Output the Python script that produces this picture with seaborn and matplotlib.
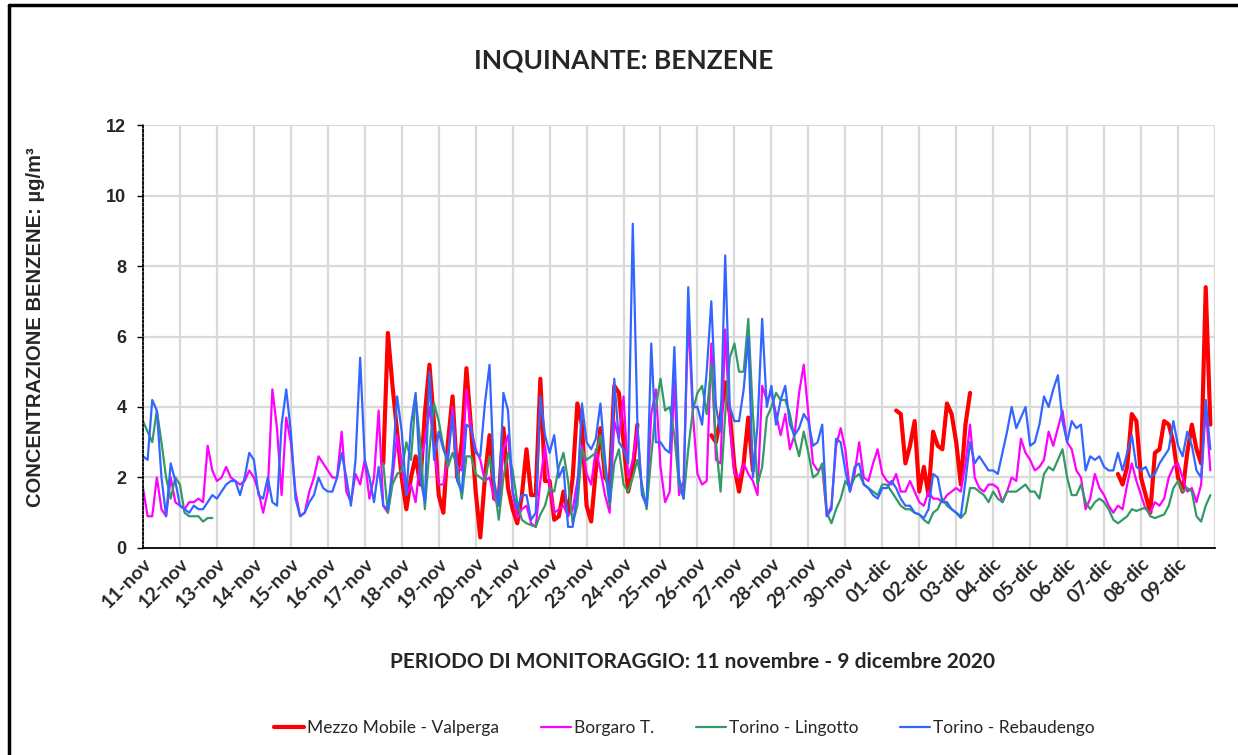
import numpy as np
import pandas as pd
import matplotlib.pyplot as plt
from matplotlib.lines import Line2D
import seaborn as sns

nan = np.nan

# Dati: concentrazione benzene (ug/m3), campioni ogni 3 ore dall'11-nov 00:00
valperga = [nan] * 48 + [
    nan, nan, nan, nan, 2.4, 6.1, 4.6, 3.3,
    2.0, 1.1, 2.0, 2.6, 1.8, 3.8, 5.2, 3.5,
    1.5, 1.0, 3.0, 4.3, 2.0, 3.0, 5.1, 3.4,
    1.6, 0.3, 2.0, 3.2, 1.4, 1.4, 3.4, 1.7,
    1.1, 0.7, 1.5, 2.8, 1.5, 1.5, 4.8, 1.9,
    1.9, 0.8, 0.9, 1.6, 1.0, 2.0, 4.1, 3.5,
    1.2, 0.75, 2.2, 3.4, 2.0, 1.8, 4.6, 4.4,
    3.0, 1.6, 2.2, 3.5, nan, nan, nan, nan,
    nan, nan, nan, nan, nan, nan, nan, nan,
    nan, nan, nan, 3.2, 3.0, 3.7, 4.7, 3.8,
    2.3, 1.6, 2.4, 3.7, 2.2, nan, nan, nan,
] + [nan] * 24 + [
    nan, nan, nan, 3.9, 3.8, 2.4, 2.9, 3.6,
    1.6, 2.3, 1.5, 3.3, 2.9, 2.8, 4.1, 3.8,
    3.0, 1.8, 3.5, 4.4, nan, nan, nan, nan,
] + [nan] * 24 + [
    nan, nan, nan, 2.1, 1.8, 2.3, 3.8, 3.6,
    2.0, 1.5, 1.0, 2.7, 2.8, 3.6, 3.5, 3.0,
    2.0, 1.6, 2.7, 3.5, 2.8, 2.4, 7.4, 3.5,
]

borgaro = [
    1.7, 0.9, 0.9, 2.0, 1.1, 0.9, 2.0, 1.3,
    1.2, 1.1, 1.3, 1.3, 1.4, 1.3, 2.9, 2.2,
    1.9, 2.0, 2.3, 2.0, 1.9, 1.8, 1.9, 2.2,
    2.0, 1.6, 1.0, 1.6, 4.5, 3.4, 1.5, 3.7,
    3.0, 1.6, 0.9, 1.0, 1.6, 2.0, 2.6, 2.4,
    2.2, 2.0, 2.0, 3.3, 1.6, 1.3, 2.1, 1.8,
    2.5, 1.4, 2.0, 3.9, 1.2, 1.0, 2.0, 3.2,
    2.3, 1.5, 1.8, 1.3, 2.5, 3.0, 4.0, 2.8,
    1.8, 1.8, 2.6, 4.0, 2.3, 2.2, 4.5, 3.4,
    2.8, 2.5, 1.9, 2.0, 1.4, 1.2, 2.8, 3.2,
    1.6, 0.85, 1.1, 1.2, 0.7, 0.6, 1.9, 2.9,
    1.8, 1.0, 1.1, 1.2, 0.9, 1.1, 1.9, 2.9,
    2.1, 1.8, 2.8, 2.2, 1.5, 1.0, 3.6, 3.1,
    4.3, 2.0, 2.5, 3.4, 1.6, 1.2, 3.8, 4.5,
    2.3, 1.3, 1.6, 4.8, 1.5, 1.9, 6.6, 3.8,
    2.1, 1.8, 1.9, 5.8, 2.5, 2.4, 6.2, 3.5,
    2.1, 2.0, 2.4, 2.1, 1.9, 1.5, 4.6, 4.2,
    4.4, 3.8, 3.2, 3.8, 2.8, 3.2, 4.4, 5.2,
    3.8, 2.4, 2.2, 2.3, 0.9, 1.2, 2.9, 3.4,
    2.8, 1.6, 2.1, 3.0, 2.0, 1.9, 2.4, 2.8,
    2.1, 1.9, 1.8, 2.1, 1.6, 1.6, 1.9, 1.6,
    1.3, 1.2, 1.6, 1.4, 1.4, 1.3, 1.5, 1.6,
    1.7, 1.6, 2.4, 3.5, 2.0, 1.7, 1.6, 1.8,
    1.8, 1.7, 1.3, 1.6, 2.0, 1.9, 3.1, 2.7,
    2.5, 2.2, 2.3, 2.5, 3.3, 2.9, 3.4, 3.9,
    3.0, 2.8, 2.2, 2.0, 1.1, 1.4, 2.1, 1.7,
    1.5, 1.2, 1.0, 1.2, 1.1, 1.8, 2.4, 1.9,
    1.5, 1.1, 1.0, 1.3, 1.2, 1.4, 2.0, 2.3,
    2.4, 2.0, 1.6, 1.7, 1.3, 1.8, 4.0, 2.2,
]

lingotto = [
    3.6, 3.3, 3.0, 3.9, 3.0, 2.0, 1.4, 2.0,
    1.8, 1.0, 0.9, 0.9, 0.9, 0.75, 0.85, 0.85,
] + [nan] * 32 + [
    nan, nan, nan, nan, 2.4, 1.0, 1.8, 2.1,
    2.2, 3.0, 2.5, 4.3, 3.0, 1.1, 2.8, 4.1,
    3.6, 2.9, 2.3, 2.7, 2.3, 1.4, 2.6, 2.6,
    2.1, 2.0, 1.9, 2.6, 1.8, 0.8, 2.0, 2.7,
    2.2, 1.3, 0.8, 0.7, 0.65, 0.6, 0.95, 1.2,
    1.7, 1.6, 2.3, 2.7, 1.9, 0.7, 1.2, 2.8,
    2.5, 2.6, 2.7, 3.2, 2.2, 1.2, 2.4, 2.8,
    1.8, 1.6, 2.0, 2.5, 1.8, 1.1, 2.6, 4.0,
    4.8, 3.9, 4.0, 3.2, 1.8, 1.4, 2.8, 3.9,
    4.4, 4.6, 3.8, 5.2, 3.0, 1.6, 3.8, 5.4,
    5.8, 5.0, 5.0, 6.5, 3.8, 1.8, 2.3, 3.7,
    4.0, 4.4, 4.2, 4.2, 3.8, 3.1, 2.6, 3.3,
    2.7, 2.0, 2.1, 2.4, 1.0, 0.7, 1.1, 1.4,
    1.9, 1.7, 2.0, 2.1, 1.8, 1.7, 1.6, 1.5,
    1.8, 1.8, 1.6, 1.4, 1.2, 1.1, 1.1, 1.0,
    0.95, 0.8, 0.7, 1.0, 1.1, 1.4, 1.2, 1.1,
    1.0, 0.85, 1.0, 1.7, 1.7, 1.6, 1.5, 1.3,
    1.6, 1.4, 1.3, 1.6, 1.6, 1.6, 1.7, 1.8,
    1.6, 1.6, 1.4, 2.1, 2.3, 2.2, 2.5, 2.8,
    2.0, 1.5, 1.5, 1.8, 1.3, 1.1, 1.3, 1.4,
    1.3, 1.1, 0.8, 0.7, 0.8, 0.9, 1.1, 1.05,
    1.1, 1.15, 0.9, 0.85, 0.9, 0.95, 1.2, 1.7,
    1.9, 1.6, 1.7, 1.6, 0.9, 0.75, 1.2, 1.5,
]

rebaudengo = [
    2.6, 2.5, 4.2, 3.9, 2.0, 0.9, 2.4, 1.9,
    1.2, 1.1, 1.0, 1.2, 1.1, 1.1, 1.3, 1.5,
    1.4, 1.6, 1.8, 1.9, 1.9, 1.5, 2.0, 2.7,
    2.5, 1.5, 1.4, 2.0, 1.3, 1.2, 3.5, 4.5,
    3.3, 1.4, 0.9, 1.0, 1.3, 1.5, 2.0, 1.7,
    1.6, 1.6, 2.0, 2.7, 2.0, 1.2, 2.5, 5.4,
    2.5, 2.0, 1.3, 2.3, 1.2, 1.1, 2.3, 4.3,
    3.3, 1.5, 3.5, 4.4, 2.0, 1.3, 5.0, 2.5,
    3.3, 2.8, 2.5, 3.8, 1.9, 1.6, 3.5, 3.4,
    2.7, 2.6, 4.1, 5.2, 1.9, 1.2, 4.4, 3.9,
    1.6, 1.1, 1.5, 1.5, 0.8, 1.0, 4.3, 3.2,
    2.7, 3.2, 2.0, 2.3, 0.6, 0.6, 1.6, 4.1,
    3.0, 2.8, 3.1, 4.1, 2.5, 1.3, 4.8, 3.0,
    2.8, 2.4, 9.2, 3.5, 1.5, 1.2, 5.8, 3.0,
    3.0, 2.8, 2.7, 5.7, 2.0, 1.4, 7.4, 4.0,
    4.0, 3.5, 5.0, 7.0, 4.0, 3.3, 8.3, 4.0,
    3.6, 3.6, 4.5, 6.0, 2.0, 3.5, 6.5, 4.0,
    4.6, 3.5, 4.2, 4.6, 3.5, 3.2, 3.4, 3.8,
    3.6, 2.9, 3.0, 3.5, 0.9, 1.1, 3.1, 3.0,
    2.2, 1.6, 2.3, 2.4, 1.8, 1.7, 1.5, 1.4,
    1.7, 1.7, 1.9, 1.7, 1.4, 1.2, 1.2, 1.0,
    0.95, 0.85, 1.1, 2.1, 2.0, 1.3, 1.3, 1.1,
    1.0, 0.9, 1.9, 3.0, 2.4, 2.6, 2.4, 2.2,
    2.2, 2.1, 2.7, 3.3, 4.0, 3.4, 3.7, 4.0,
    2.9, 3.0, 3.5, 4.3, 4.0, 4.5, 4.9, 3.6,
    3.0, 3.6, 3.4, 3.5, 2.2, 2.6, 2.5, 2.6,
    2.3, 2.2, 2.2, 2.7, 2.2, 2.7, 3.2, 2.3,
    2.2, 2.3, 2.0, 2.1, 2.4, 2.6, 2.8, 3.6,
    2.9, 2.6, 3.3, 2.9, 2.2, 2.0, 4.2, 2.8,
]

serie = ["Mezzo Mobile - Valperga", "Borgaro T.", "Torino - Lingotto", "Torino - Rebaudengo"]
valori = [valperga, borgaro, lingotto, rebaudengo]
colori = ["#ff0000", "#ff00ff", "#339966", "#3366ff"]
spessori = [3.0, 1.6, 1.6, 1.6]

giorni = ["11-nov", "12-nov", "13-nov", "14-nov", "15-nov", "16-nov", "17-nov",
          "18-nov", "19-nov", "20-nov", "21-nov", "22-nov", "23-nov", "24-nov",
          "25-nov", "26-nov", "27-nov", "28-nov", "29-nov", "30-nov", "01-dic",
          "02-dic", "03-dic", "04-dic", "05-dic", "06-dic", "07-dic", "08-dic",
          "09-dic"]

ore = np.arange(len(borgaro)) * 3  # ore dall'inizio del monitoraggio

# tabella lunga, con un id di tratto per lasciare i buchi nei dati
righe = []
for nome, v in zip(serie, valori):
    s = pd.Series(v, dtype=float)
    tratto = s.isna().cumsum()
    righe.append(pd.DataFrame({"giorno": ore / 24, "valore": s, "serie": nome, "tratto": tratto}))
df = pd.concat(righe).dropna()

sns.set_style("white")
plt.rcParams["font.family"] = ["Lato", "DejaVu Sans"]

fig = plt.figure(figsize=(12.38, 7.55), dpi=100)
ax = fig.add_axes([0.1155, 0.2742, 0.8659, 0.5602])

for nome, col, lw in zip(serie, colori, spessori):
    sns.lineplot(data=df[df["serie"] == nome], x="giorno", y="valore", units="tratto",
                 estimator=None, color=col, linewidth=lw, ax=ax, legend=False)

ax.set_xlim(0, 29)
ax.set_ylim(0, 12)
ax.set_yticks(np.arange(0, 13, 2))
ax.set_xticks(np.arange(29))
ax.set_xticklabels(giorni, rotation=45, ha="right", rotation_mode="anchor",
                   fontsize=14, fontweight="bold")
for t in ax.get_yticklabels():
    t.set_family(["Liberation Sans", "DejaVu Sans"])
    t.set_fontweight("bold")
    t.set_fontsize(13)

for d in range(30):
    ax.axvline(d, color="#d9d9d9", lw=1.6, zorder=0)
for yv in range(2, 13, 2):
    ax.axhline(yv, color="#d9d9d9", lw=1.6, zorder=0)

for s in ["top", "right"]:
    ax.spines[s].set_visible(False)
ax.spines["left"].set_linestyle((0, (1.2, 1.2)))
ax.spines["left"].set_color("black")
ax.spines["left"].set_linewidth(1.3)
ax.spines["bottom"].set_color("black")
ax.spines["bottom"].set_linewidth(1.3)
ax.tick_params(axis="y", left=True, length=4, width=1, color="black", pad=8)
ax.tick_params(axis="x", bottom=False, length=0, pad=5)
ax.set_xlabel("")
ax.set_ylabel("")

fig.text(0.504, 0.9205, "INQUINANTE: BENZENE", ha="center", va="center",
         fontsize=19, fontweight="bold")
fig.text(0.559, 0.123, "PERIODO DI MONITORAGGIO: 11 novembre - 9 dicembre 2020",
         ha="center", va="center", fontsize=15, fontweight="bold")
fig.text(0.029, 0.566, "CONCENTRAZIONE BENZENE: µg/m³", rotation=90,
         ha="center", va="center", fontsize=14.5, fontweight="bold",
         family=["Liberation Sans", "DejaVu Sans"])

maniglie = [Line2D([0], [0], color=c, lw=lw) for c, lw in zip(colori, spessori)]
fig.legend(maniglie, serie, loc="center", bbox_to_anchor=(0.553, 0.036), ncol=4,
           frameon=False, fontsize=12.5, handlelength=1.7, handletextpad=0.2,
           columnspacing=2.4)

# cornice nera del grafico
fig.add_artist(Line2D([0.0073, 1.0], [0.9934, 0.9934], color="black", lw=2.5))
fig.add_artist(Line2D([0.0073, 0.0073], [0.0, 0.9934], color="black", lw=2.5))

fig.savefig("out.png", dpi=100)
